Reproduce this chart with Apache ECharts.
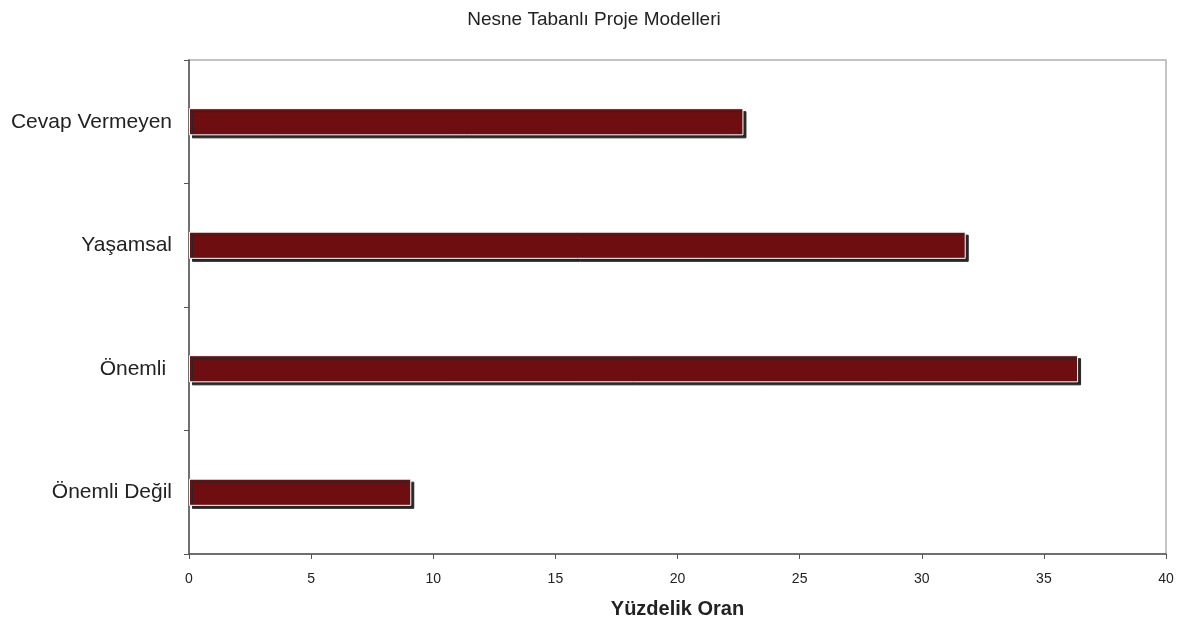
<!DOCTYPE html>
<html>
<head>
  <meta charset="UTF-8">
  <title>Nesne Tabanlı Proje Modelleri</title>
  <script src="https://cdn.jsdelivr.net/npm/echarts/dist/echarts.min.js"></script>
  <style>
    html, body { margin: 0; padding: 0; background: #fff; }
    #main { width: 1188px; height: 627px; }
  </style>
</head>
<body>
  <div id="main"></div>
  <script>
    var categories = ['Önemli Değil', 'Önemli ', 'Yaşamsal', 'Cevap Vermeyen'];
    var values = [9.1, 36.4, 31.8, 22.7];
    var xTicks = { min: 0, max: 40, interval: 5 };

    var myChart = echarts.init(document.getElementById('main'));

    var option = {
      backgroundColor: '#ffffff',
      textStyle: { fontFamily: 'Liberation Sans, Arial, sans-serif' },
      title: {
        text: 'Nesne Tabanlı Proje Modelleri',
        left: 'center',
        top: 5,
        textStyle: { color: '#222', fontSize: 19, fontWeight: 'normal' }
      },
      grid: {
        left: 189,
        right: 22,
        top: 60,
        bottom: 73,
        show: true,
        borderColor: '#b0b0b0',
        borderWidth: 1.5
      },
      xAxis: {
        type: 'value',
        min: xTicks.min,
        max: xTicks.max,
        interval: xTicks.interval,
        name: 'Yüzdelik Oran',
        nameLocation: 'middle',
        nameGap: 45,
        nameTextStyle: { color: '#222', fontSize: 20, fontWeight: 'bold' },
        axisLine: { show: true, lineStyle: { color: '#555', width: 1.5 } },
        axisTick: { show: true, length: 5, lineStyle: { color: '#555' } },
        axisLabel: { color: '#222', fontSize: 14, margin: 18 },
        splitLine: { show: false }
      },
      yAxis: {
        type: 'category',
        data: categories,
        axisLine: { show: true, lineStyle: { color: '#555', width: 1.5 } },
        axisTick: { show: true, length: 5, alignWithLabel: false, lineStyle: { color: '#555' } },
        axisLabel: { color: '#222', fontSize: 21, margin: 17 },
        splitLine: { show: false }
      },
      series: [
        {
          type: 'bar',
          data: values,
          barWidth: '22%',
          itemStyle: {
            color: '#6e0e10',
            borderColor: '#ffffff',
            borderWidth: 1,
            shadowColor: '#262626',
            shadowBlur: 0,
            shadowOffsetX: 3,
            shadowOffsetY: 3
          },
          silent: true
        }
      ]
    };

    myChart.setOption(option);
  </script>
</body>
</html>
